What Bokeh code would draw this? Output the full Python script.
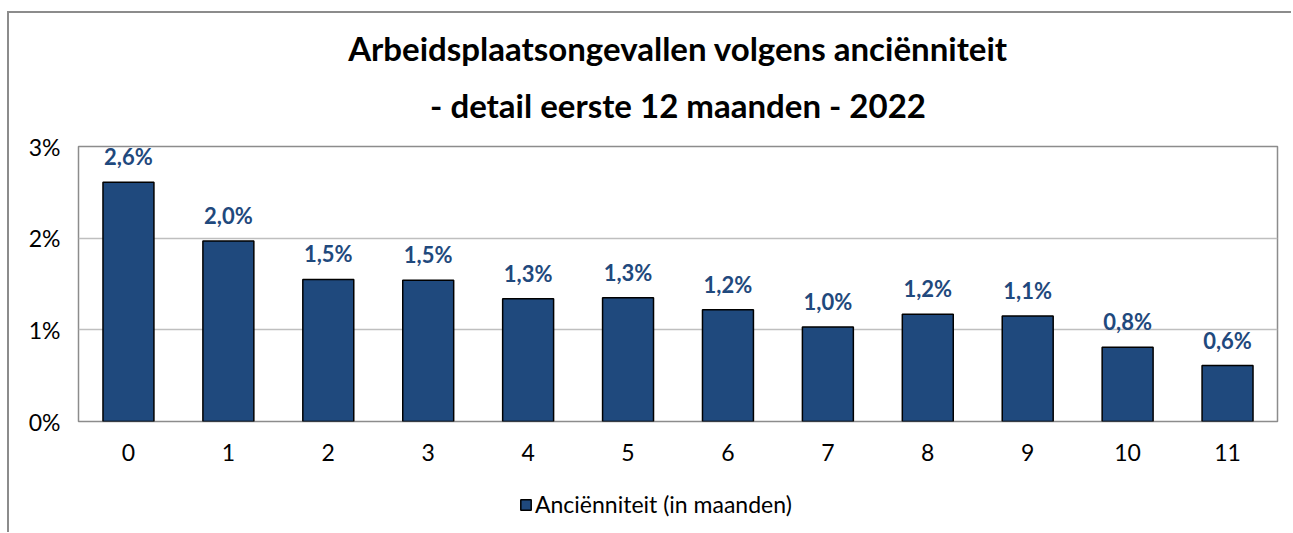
from bokeh.plotting import figure
from bokeh.layouts import column
from bokeh.models import ColumnDataSource, LabelSet, Legend, LegendItem, FixedTicker, CustomJSTickFormatter, Title
from bokeh.core.properties import value
from bokeh.embed import file_html
from bokeh.resources import INLINE

months = ["0", "1", "2", "3", "4", "5", "6", "7", "8", "9", "10", "11"]
values = [2.61, 1.97, 1.55, 1.54, 1.34, 1.35, 1.22, 1.03, 1.17, 1.15, 0.81, 0.61]
labels = ["2,6%", "2,0%", "1,5%", "1,5%", "1,3%", "1,3%", "1,2%", "1,0%", "1,2%", "1,1%", "0,8%", "0,6%"]
yticks = [0, 1, 2, 3]
series_name = "Anciënniteit (in maanden)"

src = ColumnDataSource(dict(x=months, y=values, lab=labels))

FONT = "Lato"
BLUE = "#1F497D"
W = 1282

p = figure(width=W, height=453, x_range=months, y_range=(0, 3),
           output_backend="svg", toolbar_location=None,
           min_border_left=69, min_border_right=14, min_border_top=133, min_border_bottom=45)

t2 = Title(text="- detail eerste 12 maanden - 2022", align="center", text_font=FONT,
           text_font_size="33px", text_font_style="bold", text_color="#000000", standoff=43)
t1 = Title(text="Arbeidsplaatsongevallen volgens anciënniteit", align="center", text_font=FONT,
           text_font_size="33px", text_font_style="bold", text_color="#000000", standoff=-12)
p.add_layout(t2, "above")
p.add_layout(t1, "above")

p.vbar(x="x", top="y", width=0.51, source=src, fill_color=BLUE, line_color="#000000", line_width=1.5)

p.add_layout(LabelSet(x="x", y="y", text="lab", source=src, text_align="center",
                      text_baseline="bottom", y_offset=12, text_font=value(FONT),
                      text_font_size="22px", text_font_style="bold", text_color=BLUE))

p.yaxis.ticker = FixedTicker(ticks=yticks)
p.yaxis.formatter = CustomJSTickFormatter(code="return tick + '%';")
p.ygrid.ticker = FixedTicker(ticks=yticks)
p.ygrid.grid_line_color = "#bfbfbf"
p.ygrid.grid_line_width = 1.5
p.xgrid.grid_line_color = None

for ax in (p.xaxis, p.yaxis):
    ax.axis_line_color = None
    ax.major_tick_line_color = None
    ax.minor_tick_line_color = None
    ax.major_label_text_font = FONT
    ax.major_label_text_font_size = "23px"
    ax.major_label_text_color = "#000000"
p.xaxis.major_label_standoff = 16
p.yaxis.major_label_standoff = 12

p.outline_line_color = "#8c8c8c"
p.outline_line_width = 1.5
p.x_range.range_padding = 0

# legend strip
p2 = figure(width=W, height=66, output_backend="svg", toolbar_location=None,
            min_border_left=0, min_border_right=0, min_border_top=0, min_border_bottom=0,
            x_range=(0, 1), y_range=(0, 1))
p2.axis.visible = False
p2.grid.visible = False
p2.outline_line_color = None
dummy = p2.vbar(x=[0.5], top=[6], bottom=[5], width=0.5, fill_color=BLUE,
                line_color="#000000", line_width=1.5)
dummy.visible = False
leg = Legend(items=[LegendItem(label=series_name, renderers=[dummy])],
             location=(441, 14), orientation="horizontal",
             label_text_font=FONT, label_text_font_size="23px", label_text_color="#000000",
             glyph_width=13, glyph_height=13, label_standoff=3,
             border_line_color=None, background_fill_alpha=0, margin=0, padding=6,
             inactive_fill_alpha=0)
p2.add_layout(leg, "center")

layout = column(p, p2, spacing=0,
                styles={"border-top": "2px solid #8c8c8c", "border-left": "2px solid #8c8c8c",
                        "margin-top": "11px", "margin-left": "7px"})

open("out.html", "w").write(file_html(layout, INLINE))
